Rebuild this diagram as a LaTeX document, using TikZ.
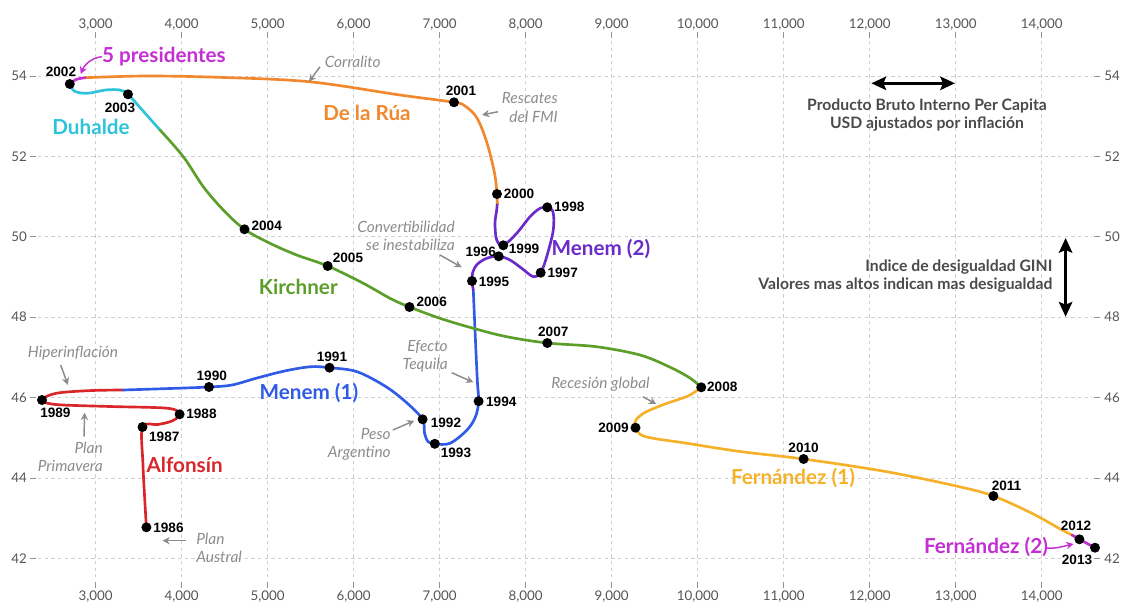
\documentclass[tikz,border=0pt]{standalone}
\usepackage{fontspec}
\setmainfont{Lato}
\newfontfamily\yearfnt{Liberation Sans}
\usetikzlibrary{arrows.meta}
\definecolor{cred}{HTML}{D9262B}
\definecolor{cblue}{HTML}{2F5BE6}
\definecolor{cpurp}{HTML}{6A2BC8}
\definecolor{corange}{HTML}{F2882E}
\definecolor{ccyan}{HTML}{2EC3DA}
\definecolor{cgreen}{HTML}{5C9E2A}
\definecolor{camber}{HTML}{F6B12A}
\definecolor{cmag}{HTML}{C42FD4}
\definecolor{cgrid}{HTML}{CFCFCF}
\definecolor{cax}{HTML}{555555}
\definecolor{cann}{HTML}{8C8C8C}
\definecolor{cleg}{HTML}{4A4A4A}
\tikzset{
  gridln/.style={cgrid, line width=0.7pt, dash pattern=on 2.5pt off 2.5pt},
  tickln/.style={cgrid!70!black, line width=0.7pt},
  axl/.style={font=\fontsize{10}{12}\selectfont, text=cax, inner sep=0pt},
  crv/.style={line width=2pt, line cap=round, line join=round},
  dotnode/.style={circle, fill=black, inner sep=0pt, minimum size=7.5pt},
  yr/.style={font=\yearfnt\bfseries\fontsize{10.2}{12}\selectfont, inner sep=0pt},
  pres/.style={font=\bfseries\fontsize{15.5}{18}\selectfont, inner sep=0pt},
  ann/.style={font=\itshape\fontsize{11.6}{13.7}\selectfont, text=cann, inner sep=0pt},
  annarr/.style={cann, line width=1.1pt, -{Stealth[length=5.5pt,width=5.5pt]}},
  magarr/.style={cmag, line width=1.1pt, -{Stealth[length=5.5pt,width=5.5pt]}},
  legarr/.style={black, line width=2.6pt, {Stealth[length=11pt,width=10pt,inset=2pt]}-{Stealth[length=11pt,width=10pt,inset=2pt]}},
  legtxt/.style={font=\bfseries\fontsize{11.8}{13.5}\selectfont, text=cleg, inner sep=0pt},
}
\begin{document}
\begin{tikzpicture}[x=0.75pt,y=-0.75pt]
\useasboundingbox (0,0) rectangle (1129,604);
% ---------- grid ----------
\foreach \k/\lab in {0/{3,000},1/{4,000},2/{5,000},3/{6,000},4/{7,000},5/{8,000},6/{9,000},7/{10,000},8/{11,000},9/{12,000},10/{13,000},11/{14,000}}{
  \pgfmathsetmacro{\gx}{95.7+86*\k}
  \draw[gridln] (\gx,41) -- (\gx,577);
  \draw[tickln] (\gx,32) -- (\gx,38);
  \draw[tickln] (\gx,582) -- (\gx,588);
  \node[axl] (xt\k) at (\gx,25) {\lab};
  \node[axl] (xb\k) at (\gx,597) {\lab};
}
\foreach \v in {42,44,46,48,50,52,54}{
  \pgfmathsetmacro{\gy}{76+(54-\v)*40.2}
  \draw[gridln] (38,\gy) -- (1092,\gy);
  \draw[tickln] (30,\gy) -- (36,\gy);
  \draw[tickln] (1094,\gy) -- (1100,\gy);
  \node[axl] (yl\v) at (19,\gy) {\v};
  \node[axl] (yr\v) at (1112,\gy) {\v};
}
% ---------- data points ----------
\coordinate (p1986) at (146.4,527.3);
\coordinate (p1987) at (142.5,427);
\coordinate (p1988) at (179.6,414.3);
\coordinate (p1989) at (42,400);
\coordinate (p1990) at (209,387);
\coordinate (p1991) at (329.5,367.7);
\coordinate (p1992) at (422.6,419.3);
\coordinate (p1993) at (434.8,443.8);
\coordinate (p1994) at (478.6,401.2);
\coordinate (p1995) at (472,281);
\coordinate (p1996) at (498.7,256.3);
\coordinate (p1997) at (540.7,272.7);
\coordinate (p1998) at (547.3,207.3);
\coordinate (p1999) at (503.3,245.3);
\coordinate (p2000) at (497,194);
\coordinate (p2001) at (454,102.3);
\coordinate (p2002) at (69.8,84);
\coordinate (p2003) at (128,94.3);
\coordinate (p2004) at (244.5,229.3);
\coordinate (p2005) at (327.7,266);
\coordinate (p2006) at (409.5,307);
\coordinate (p2007) at (547.3,343);
\coordinate (p2008) at (701.2,387.3);
\coordinate (p2009) at (635.5,427.7);
\coordinate (p2010) at (803.6,459);
\coordinate (p2011) at (993.4,496);
\coordinate (p2012) at (1079.4,539.3);
\coordinate (p2013) at (1095,547.7);
% colour changes
\coordinate (tRB) at (123,390);
\coordinate (tBP) at (473.3,290);
\coordinate (tPO) at (497.3,203);
\coordinate (tOM) at (85,77.7);
\coordinate (tCG) at (160,130);
\coordinate (tAM) at (1072,535);
% ---------- curves ----------
\draw[crv,cred] plot[smooth,tension=0.55] coordinates {(p1986) (144.6,497) (142.9,463) (p1987) (158,424.5) (172,421) (p1988) (168,408.3) (110,406.5) (56,404.5) (p1989) (56,393.3) (90,390.6) (tRB)};
\draw[crv,cblue] plot[smooth,tension=0.55] coordinates {(tRB) (170,388.5) (p1990) (232,385) (257,378) (286,370.7) (311,366.7) (p1991) (357,371.7) (386,386.7) (407,403) (p1992) (424.5,433) (428,441.5) (p1993) (450,443.3) (467,430) (475.5,416.7) (p1994) (477.3,380) (475,330) (tBP)};
\draw[crv,cpurp] plot[smooth,tension=0.55] coordinates {(tBP) (p1995) (472.7,272.5) (477,264.5) (486.7,258.3) (p1996) (510,260) (521.7,268.3) (533.3,276.7) (p1997) (546.7,256.7) (553.3,230) (553,212) (p1998) (540,208.3) (530,216.7) (516.7,233.3) (p1999) (496.7,240) (495,223.3) (496.7,210) (tPO)};
\draw[crv,corange] plot[smooth,tension=0.55] coordinates {(tPO) (p2000) (494.5,173) (487,143) (477,118) (465,106) (p2001) (400,95) (309,81.7) (218,77.3) (145.5,76) (tOM)};
\draw[crv,cmag] plot[smooth,tension=0.55] coordinates {(tOM) (76,79.5) (p2002)};
\draw[crv,ccyan] plot[smooth,tension=0.55] coordinates {(p2002) (74.5,91.2) (87.3,93.3) (105.5,90) (120,90) (p2003) (140,107.5) (152,121) (tCG)};
\draw[crv,cgreen] plot[smooth,tension=0.55] coordinates {(tCG) (183.3,156.7) (203.3,186.7) (223.3,210) (p2004) (270,243.3) (296.7,255) (p2005) (363.3,283.3) (390,298.3) (p2006) (440,318.3) (473.3,328.3) (506.7,336.7) (p2007) (596.3,346.7) (640,355) (669,366.7) (690,378) (p2008)};
\draw[crv,camber] plot[smooth,tension=0.55] coordinates {(p2008) (688,396) (665,404) (645,412.5) (636,420) (p2009) (645,436.5) (687,443.3) (741.5,451.7) (p2010) (886.7,471.7) (959.3,486.7) (p2011) (1031.9,513.3) (1062,530) (tAM)};
\draw[crv,cmag] plot[smooth,tension=0.55] coordinates {(tAM) (p2012) (p2013)};
% ---------- dots ----------
\foreach \y in {1986,1987,1988,1989,1990,1991,1992,1993,1994,1995,1996,1997,1998,1999,2000,2001,2002,2003,2004,2005,2006,2007,2008,2009,2010,2011,2012,2013}{
  \node[dotnode] (d\y) at (p\y) {};
}
% ---------- year labels ----------
\node[yr] (y1986) at (168.5,528) {1986};
\node[yr] (y1987) at (164.3,436.5) {1987};
\node[yr] (y1988) at (201.5,414.3) {1988};
\node[yr] (y1989) at (55.4,413.3) {1989};
\node[yr] (y1990) at (211.8,375.7) {1990};
\node[yr] (y1991) at (332,356.7) {1991};
\node[yr] (y1992) at (446,423.3) {1992};
\node[yr] (y1993) at (456,452.7) {1993};
\node[yr] (y1994) at (501.3,401.7) {1994};
\node[yr] (y1995) at (494,281.7) {1995};
\node[yr] (y1996) at (480.7,251.7) {1996};
\node[yr] (y1997) at (562.7,272.7) {1997};
\node[yr] (y1998) at (569.3,207.3) {1998};
\node[yr] (y1999) at (524,249) {1999};
\node[yr] (y2000) at (519,194) {2000};
\node[yr] (y2001) at (461,90.7) {2001};
\node[yr] (y2002) at (61,71.7) {2002};
\node[yr] (y2003) at (120,107.7) {2003};
\node[yr] (y2004) at (266.7,226) {2004};
\node[yr] (y2005) at (348,258.3) {2005};
\node[yr] (y2006) at (431.7,301.7) {2006};
\node[yr] (y2007) at (553.3,332.3) {2007};
\node[yr] (y2008) at (722.3,387.3) {2008};
\node[yr] (y2009) at (613.5,428.3) {2009};
\node[yr] (y2010) at (803.6,448.3) {2010};
\node[yr] (y2011) at (1006.5,486) {2011};
\node[yr] (y2012) at (1076,526) {2012};
\node[yr] (y2013) at (1077,560) {2013};
% ---------- president labels ----------
\node[pres,text=cmag] (l5p) at (164,57) {5 presidentes};
\node[pres,text=ccyan] (lduh) at (91,126.7) {Duhalde};
\node[pres,text=corange] (lrua) at (367,113.3) {De la Rúa};
\node[pres,text=cgreen] (lkir) at (298.3,286.7) {Kirchner};
\node[pres,text=cblue] (lmen1) at (309,393.5) {Menem (1)};
\node[pres,text=cred] (lalf) at (184.6,465) {Alfonsín};
\node[pres,text=cpurp] (lmen2) at (601,249) {Menem (2)};
\node[pres,text=camber] (lfer1) at (793,478) {Fernández (1)};
\node[pres,text=cmag] (lfer2) at (986,546.7) {Fernández (2)};
\coordinate (a5s) at (101.8,56.7);
\coordinate (a5e) at (80.7,74);
\draw[magarr] (a5s) .. controls (90,58) and (84,66) .. (a5e);
\coordinate (af2s) at (1046,548);
\coordinate (af2e) at (1073.6,544);
\draw[magarr] (af2s) .. controls (1056,549) and (1064,546) .. (af2e);
% ---------- annotations ----------
\node[ann] (nCor) at (352.7,62.3) {Corralito};
\coordinate (aCs) at (320,66.7); \coordinate (aCe) at (309,81.7);
\draw[annarr] (aCs) -- (aCe);
\node[ann,align=right,anchor=east] (nRes) at (558,107.5) {Rescates\\del FMI};
\coordinate (aRs) at (498,111.7); \coordinate (aRe) at (482,115);
\draw[annarr] (aRs) -- (aRe);
\node[ann,align=right,anchor=east] (nCon) at (455,236) {Convertibilidad\\se inestabiliza};
\coordinate (aVs) at (440,255); \coordinate (aVe) at (461.7,267.3);
\draw[annarr] (aVs) -- (aVe);
\node[ann,align=right,anchor=east] (nTeq) at (448,356.5) {Efecto\\Tequila};
\coordinate (aTs) at (451.7,372.7); \coordinate (aTe) at (473.3,382.3);
\draw[annarr] (aTs) -- (aTe);
\node[ann,align=right,anchor=east] (nPes) at (391,444.5) {Peso\\Argentino};
\coordinate (aPs) at (392.9,430); \coordinate (aPe) at (414.3,420.7);
\draw[annarr] (aPs) -- (aPe);
\node[ann] (nHip) at (73,352.7) {Hiperinflación};
\coordinate (aHs) at (60.7,365); \coordinate (aHe) at (67.9,385);
\draw[annarr] (aHs) -- (aHe);
\node[ann,align=right,anchor=east] (nPri) at (103,457) {Plan\\Primavera};
\coordinate (aYs) at (84,436.7); \coordinate (aYe) at (84.6,412.7);
\draw[annarr] (aYs) -- (aYe);
\node[ann,align=left,anchor=west] (nAus) at (196,547.5) {Plan\\Austral};
\coordinate (aAs) at (185.7,540.7); \coordinate (aAe) at (162.5,540.7);
\draw[annarr] (aAs) -- (aAe);
\node[ann] (nRec) at (600.5,384) {Recesión global};
\coordinate (aGs) at (642.8,396.7); \coordinate (aGe) at (656.2,404);
\draw[annarr] (aGs) -- (aGe);
% ---------- legend ----------
\coordinate (hL) at (871.4,83.3); \coordinate (hR) at (955,83.3);
\draw[legarr] (hL) -- (hR);
\node[legtxt,align=center] (tGDP) at (927,114.7) {Producto Bruto Interno Per Capita\\USD ajustados por inflación};
\coordinate (vT) at (1065.6,238); \coordinate (vB) at (1065.6,316.7);
\draw[legarr] (vT) -- (vB);
\node[legtxt,align=right,anchor=east] (tGINI) at (1052.6,275.8) {Indice de desigualdad GINI\\Valores mas altos indican mas desigualdad};
\end{tikzpicture}
\end{document}
